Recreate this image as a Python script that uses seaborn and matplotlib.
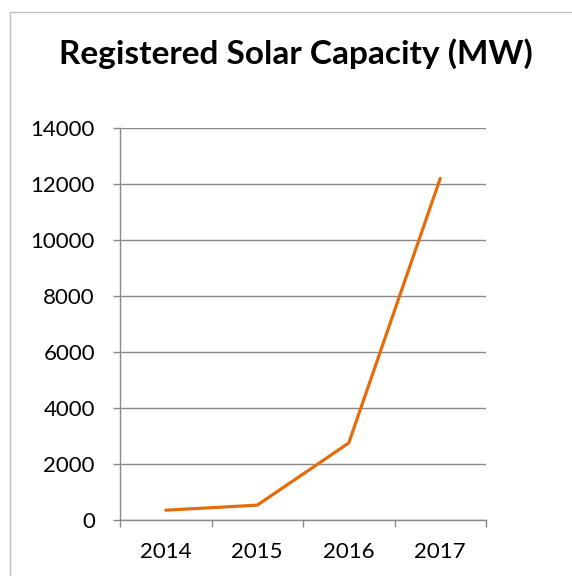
import matplotlib
matplotlib.use("Agg")
import matplotlib.pyplot as plt
import seaborn as sns
import pandas as pd
from matplotlib.patches import Rectangle

years = ["2014", "2015", "2016", "2017"]
capacity = [350, 530, 2750, 12200]
yticks = [0, 2000, 4000, 6000, 8000, 10000, 12000, 14000]

sns.set_theme(style="white")
plt.rcParams['font.family'] = ['Lato', 'DejaVu Sans']

W, H = 572, 576
fig = plt.figure(figsize=(W/100, H/100), dpi=100)
ax = fig.add_axes([120/W, 1-520/H, (486-120)/W, (520-128)/H])

df = pd.DataFrame({"year": years, "cap": capacity})
df["pos"] = range(len(years))
sns.lineplot(data=df, x="pos", y="cap", ax=ax, color="#E46C0A", linewidth=2.3)

grid_c = "#888888"
ax.set_xlim(-0.5, len(years) - 0.5)
ax.set_ylim(0, 14000)
ax.set_yticks(yticks)
ax.set_yticklabels([str(v) for v in yticks])
ax.yaxis.grid(True, color=grid_c, linewidth=1.0)
ax.set_axisbelow(True)
ax.set_xticks([i - 0.5 for i in range(len(years) + 1)])
ax.set_xticklabels([])
ax.set_xticks(range(len(years)), minor=True)
ax.set_xticklabels(years, minor=True)
ax.tick_params(axis="x", which="major", length=5, width=1.0, color=grid_c, direction="out", bottom=True)
ax.tick_params(axis="x", which="minor", length=0, pad=16, labelsize=16, colors="#000000")
ax.tick_params(axis="y", which="major", length=5, width=1.0, color=grid_c, direction="out", left=True, pad=13, labelsize=16, labelcolor="#000000")
ax.set_xlabel("")
ax.set_ylabel("")
for s in ["top", "right"]:
    ax.spines[s].set_visible(False)
for s in ["left", "bottom"]:
    ax.spines[s].set_color(grid_c)
    ax.spines[s].set_linewidth(1.0)

fig.text(296/W, 1-64/H, "Registered Solar Capacity (MW)", ha="center", va="baseline",
         fontsize=24, fontweight="bold", color="#000000")

fig.patches.append(Rectangle((10/W, -0.5), 2, 1.5 - 12/H, transform=fig.transFigure,
                             fill=False, edgecolor="#BFBFBF", linewidth=1.0))

fig.savefig("out.png", dpi=100)
